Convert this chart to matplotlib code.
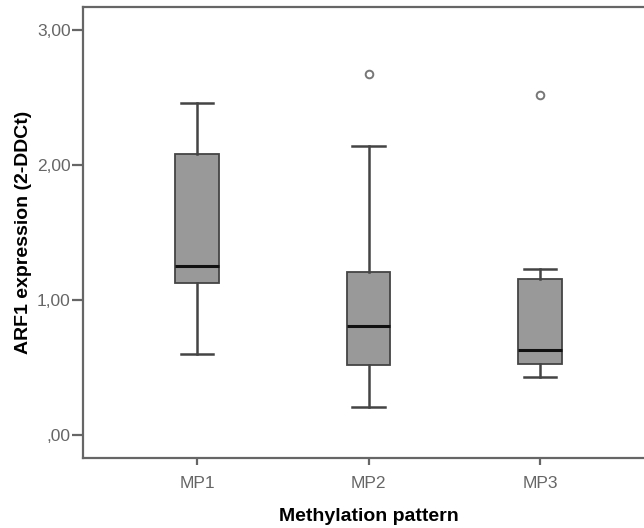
import matplotlib
matplotlib.use("Agg")
import matplotlib.pyplot as plt

plt.rcParams['font.family'] = ['Liberation Sans', 'DejaVu Sans']

groups = ['MP1', 'MP2', 'MP3']
whislo = [0.60, 0.21, 0.43]
q1 = [1.13, 0.52, 0.53]
med = [1.25, 0.81, 0.63]
q3 = [2.08, 1.21, 1.16]
whishi = [2.46, 2.14, 1.23]
outliers = [[], [2.67], [2.52]]

yticks = [0, 1, 2, 3]
ytick_labels = [',00', '1,00', '2,00', '3,00']

stats = []
for i, g in enumerate(groups):
    stats.append({'label': g, 'whislo': whislo[i], 'q1': q1[i], 'med': med[i],
                  'q3': q3[i], 'whishi': whishi[i], 'fliers': outliers[i]})

fig = plt.figure(figsize=(6.44, 5.28), dpi=100)
ax = fig.add_axes([83 / 644, 1 - 458 / 528, 571 / 644, 451 / 528])

edge = '#444444'
ax.bxp(stats, positions=[1, 2, 3], widths=0.255, patch_artist=True,
       boxprops=dict(facecolor='#999999', edgecolor=edge, linewidth=1.3),
       medianprops=dict(color='#111111', linewidth=2.2),
       whiskerprops=dict(color=edge, linewidth=1.8),
       capprops=dict(color=edge, linewidth=1.8),
       capwidths=0.19,
       flierprops=dict(marker='o', markersize=5.5, markerfacecolor='white',
                       markeredgecolor='#777777', markeredgewidth=1.4))

ax.set_xlim(0.335, 3.665)
ax.set_ylim(-0.167, 3.169)
ax.set_yticks(yticks)
ax.set_yticklabels(ytick_labels)
ax.set_xticks([1, 2, 3])
ax.set_xticklabels(groups)

for s in ['left', 'top', 'bottom', 'right']:
    ax.spines[s].set_color('#666666')
    ax.spines[s].set_linewidth(1.6)

ax.tick_params(axis='y', length=8, width=1.6, color='#666666', labelcolor='#666666',
               labelsize=12.5, pad=1)
ax.tick_params(axis='x', length=5, width=1.6, color='#666666', labelcolor='#666666',
               labelsize=12.5, pad=8)

ax.set_ylabel('ARF1 expression (2-DDCt)', fontsize=14, fontweight='bold')
ax.yaxis.set_label_coords(-0.089, 0.5)
ax.set_xlabel('Methylation pattern', fontsize=14, fontweight='bold', labelpad=12)

fig.savefig('out.png', dpi=100)
